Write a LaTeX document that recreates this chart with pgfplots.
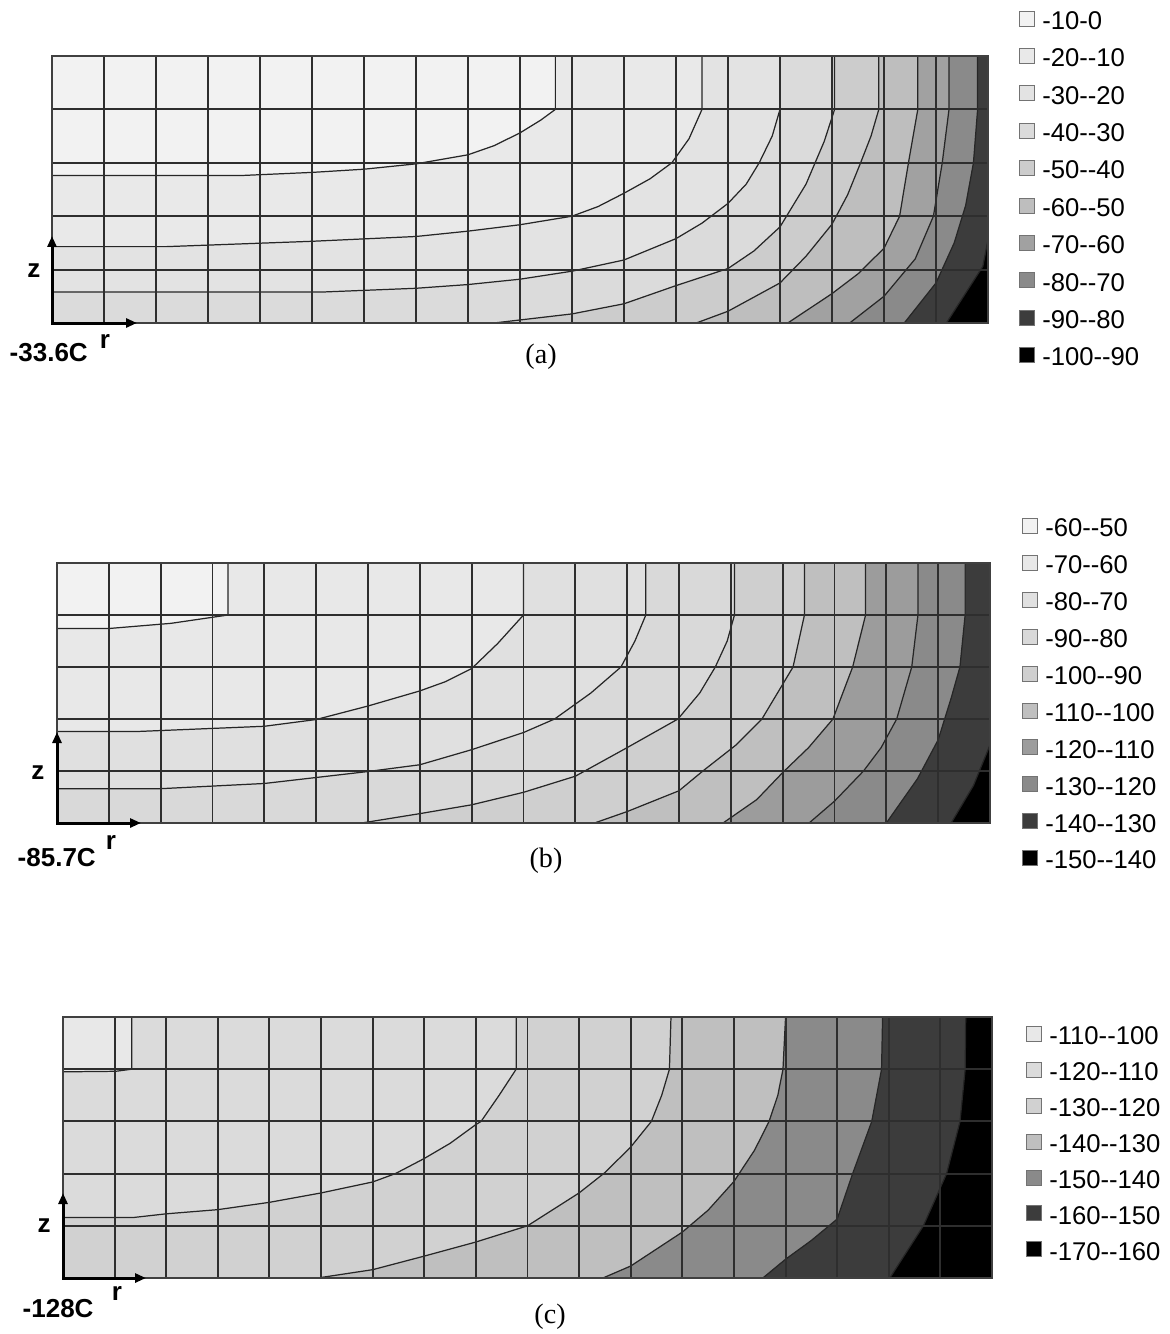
\documentclass[border=0pt]{standalone}
\usepackage{pgfplots}
\pgfplotsset{compat=1.18}
\usepackage{pgfplotstable}
\usetikzlibrary{arrows.meta}
\usepackage{fontspec}
\setmainfont{Liberation Sans}
\newfontfamily\capfont{Liberation Serif}
\newcommand\dd{-\kern0pt-}

% grey levels of the bands, lightest first
\definecolor{a1}{gray}{0.95}\definecolor{a2}{gray}{0.915}\definecolor{a3}{gray}{0.89}
\definecolor{a4}{gray}{0.86}\definecolor{a5}{gray}{0.80}\definecolor{a6}{gray}{0.745}
\definecolor{a7}{gray}{0.63}\definecolor{a8}{gray}{0.54}\definecolor{a9}{gray}{0.235}
\definecolor{a10}{gray}{0}
\definecolor{b1}{gray}{0.95}\definecolor{b2}{gray}{0.91}\definecolor{b3}{gray}{0.88}
\definecolor{b4}{gray}{0.85}\definecolor{b5}{gray}{0.81}\definecolor{b6}{gray}{0.75}
\definecolor{b7}{gray}{0.61}\definecolor{b8}{gray}{0.54}\definecolor{b9}{gray}{0.235}
\definecolor{b10}{gray}{0}
\definecolor{c1}{gray}{0.91}\definecolor{c2}{gray}{0.86}\definecolor{c3}{gray}{0.82}
\definecolor{c4}{gray}{0.75}\definecolor{c5}{gray}{0.54}\definecolor{c6}{gray}{0.235}
\definecolor{c7}{gray}{0}

% contour lines in mesh units (r: 0..18 elements, z: 0..5 elements)
\pgfplotstableread{
x y
0 2.76
3.6 2.76
5 2.82
6 2.88
7 2.98
8 3.15
8.5 3.32
9 3.56
9.4 3.8
9.68 4.0
9.68 5
}\aA
\pgfplotstableread{
x y
0 1.43
2.2 1.43
5 1.53
7 1.62
8 1.72
9 1.84
10 2.0
10.5 2.18
11 2.43
11.5 2.7
11.92 3.0
12.25 3.45
12.5 4.0
12.5 5
}\aB
\pgfplotstableread{
x y
0 0.58
5.2 0.58
7 0.65
8 0.72
9 0.82
10 0.97
11 1.18
12 1.58
12.5 1.87
13 2.24
13.35 2.6
13.6 3.0
13.85 3.5
14 4.0
14 5
}\aC
\pgfplotstableread{
x y
8.5 0
10 0.17
11 0.36
12 0.7
13 1.02
13.5 1.35
14 1.8
14.5 2.6
14.85 3.4
15.05 4.0
15.05 5
}\aD
\pgfplotstableread{
x y
12.39 0
13 0.22
14 0.75
14.5 1.25
15 1.85
15.3 2.4
15.55 3.0
15.75 3.5
15.9 4.0
15.9 5
}\aE
\pgfplotstableread{
x y
14.15 0
15 0.55
15.5 0.92
16 1.4
16.3 2.0
16.47 3.0
16.65 4.0
16.65 5
}\aF
\pgfplotstableread{
x y
15.34 0
16 0.5
16.6 1.2
16.95 2.0
17.12 3.0
17.25 4.0
17.25 5
}\aG
\pgfplotstableread{
x y
16.39 0
17 0.75
17.35 1.5
17.57 2.2
17.72 3.0
17.8 4.0
17.8 5
}\aH
\pgfplotstableread{
x y
17.2 0
17.57 0.56
17.9 1.06
18 1.56
}\aI

\pgfplotstableread{
x y
0 3.74
1 3.74
2.2 3.84
3.3 4.0
3.3 5
}\bA
\pgfplotstableread{
x y
0 1.76
1.56 1.76
4 1.86
5 1.99
6 2.25
7 2.54
7.5 2.72
8 2.97
8.5 3.45
9 4.0
9 5
}\bB
\pgfplotstableread{
x y
0 0.66
2 0.66
4 0.76
6 0.99
7 1.12
8 1.41
9 1.74
9.6 2.0
10.3 2.5
10.88 3.0
11.15 3.5
11.36 4.0
11.36 5
}\bC
\pgfplotstableread{
x y
5.88 0
7 0.18
8 0.35
9 0.59
10 0.9
11 1.45
11.98 2.0
12.4 2.5
12.7 3.0
12.93 3.5
13.07 4.0
13.07 5
}\bD
\pgfplotstableread{
x y
10.37 0
11 0.22
12 0.62
12.46 1.0
13.1 1.5
13.6 2.0
14.2 3.0
14.42 4.0
14.42 5
}\bE
\pgfplotstableread{
x y
12.85 0
13.5 0.45
14 0.97
14.5 1.45
14.97 2.0
15.35 3.0
15.6 4.0
15.6 5
}\bF
\pgfplotstableread{
x y
14.51 0
15 0.42
15.56 1.0
15.9 1.45
16.2 2.0
16.49 3.0
16.61 4.0
16.61 5
}\bG
\pgfplotstableread{
x y
16.0 0
16.6 0.85
17.0 1.6
17.25 2.4
17.42 3.0
17.52 4.0
17.52 5
}\bH
\pgfplotstableread{
x y
17.25 0
17.68 0.72
18 1.5
}\bI

\pgfplotstableread{
x y
0 3.95
1.02 3.96
1.33 4.0
1.33 5
}\cA
\pgfplotstableread{
x y
0 1.16
1.37 1.16
2 1.23
3 1.31
4 1.45
5 1.63
6 1.84
6.44 2.0
7 2.29
7.5 2.58
8 2.94
8.1 3.0
8.45 3.5
8.78 4.0
8.78 5
}\cB
\pgfplotstableread{
x y
4.93 0
6 0.16
7 0.42
8 0.69
9 1.0
10 1.63
10.5 2.02
11 2.51
11.4 3.0
11.6 3.5
11.75 4.0
11.78 5
}\cC
\pgfplotstableread{
x y
10.46 0
11 0.23
12 0.88
12.5 1.3
13 1.85
13.4 2.45
13.68 3.0
13.85 3.5
13.95 4.0
14 5
}\cD
\pgfplotstableread{
x y
13.56 0
14 0.36
14.5 0.72
15 1.13
15.3 2.0
15.67 3.0
15.86 4.0
15.88 5
}\cE
\pgfplotstableread{
x y
16.02 0
16.67 1.0
17.12 2.0
17.38 3.0
17.48 4.0
17.49 5
}\cF

\pgfplotsset{
  panel/.style={
    scale only axis, anchor=north west,
    xmin=0, xmax=18, ymin=0, ymax=5,
    xtick={0,...,18}, ytick={0,...,5},
    xticklabels={}, yticklabels={},
    major tick length=0pt,
    grid=major,
    major grid style={black!82, line width=0.55pt},
    axis line style={black!75, line width=0.5pt},
    axis on top,
    legend cell align=left,
    legend image code/.code={\draw[##1,draw=black!55,line width=0.3pt] (0mm,-0.5mm) rectangle (1.5mm,1.0mm);},
    legend style={draw=none, fill=none, inner sep=0pt, at={(1,1)}, anchor=north west,
      font=\fontsize{7.3}{8}\selectfont,
      nodes={inner xsep=0.75mm, inner ysep=0pt, text height=2.2mm, text depth=0.55mm}},
  },
  band/.style={draw=none},
  cline/.style={black!85, line width=0.35pt, forget plot},
}

\begin{document}
\begin{tikzpicture}
\path[use as bounding box] (0mm,0mm) rectangle (117mm,-133.4mm);

% ---------- (a)
\begin{axis}[panel, at={(5.2mm,-5.6mm)}, width=93.6mm, height=26.7mm,
  legend style={xshift=3.0mm, yshift=4.94mm, row sep=0.99mm}]
\addplot[fill=a1,draw=none] coordinates {(0,0) (18,0) (18,5) (0,5)} -- cycle;
\addlegendentry{-10-0}
\addplot[fill=a2,band] table {\aA} -- (axis cs:18,5) -- (axis cs:18,0) -- (axis cs:0,0) -- cycle;
\addlegendentry{-20\dd10}
\addplot[fill=a3,band] table {\aB} -- (axis cs:18,5) -- (axis cs:18,0) -- (axis cs:0,0) -- cycle;
\addlegendentry{-30\dd20}
\addplot[fill=a4,band] table {\aC} -- (axis cs:18,5) -- (axis cs:18,0) -- (axis cs:0,0) -- cycle;
\addlegendentry{-40\dd30}
\addplot[fill=a5,band] table {\aD} -- (axis cs:18,5) -- (axis cs:18,0) -- (axis cs:0,0) -- cycle;
\addlegendentry{-50\dd40}
\addplot[fill=a6,band] table {\aE} -- (axis cs:18,5) -- (axis cs:18,0) -- (axis cs:0,0) -- cycle;
\addlegendentry{-60\dd50}
\addplot[fill=a7,band] table {\aF} -- (axis cs:18,5) -- (axis cs:18,0) -- (axis cs:0,0) -- cycle;
\addlegendentry{-70\dd60}
\addplot[fill=a8,band] table {\aG} -- (axis cs:18,5) -- (axis cs:18,0) -- (axis cs:0,0) -- cycle;
\addlegendentry{-80\dd70}
\addplot[fill=a9,band] table {\aH} -- (axis cs:18,5) -- (axis cs:18,0) -- (axis cs:0,0) -- cycle;
\addlegendentry{-90\dd80}
\addplot[fill=a10,band] table {\aI} -- (axis cs:18,0) -- cycle;
\addlegendentry{-100\dd90}
\addplot[cline] table {\aA};
\addplot[cline] table {\aB};
\addplot[cline] table {\aC};
\addplot[cline] table {\aD};
\addplot[cline] table {\aE};
\addplot[cline] table {\aF};
\addplot[cline] table {\aG};
\addplot[cline] table {\aH};
\addplot[cline] table {\aI};
\end{axis}

% ---------- (b)
\begin{axis}[panel, at={(5.7mm,-56.3mm)}, width=93.3mm, height=26.0mm,
  legend style={xshift=3.1mm, yshift=4.89mm, row sep=0.94mm}]
\addplot[fill=b1,draw=none] coordinates {(0,0) (18,0) (18,5) (0,5)} -- cycle;
\addlegendentry{-60\dd50}
\addplot[fill=b2,band] table {\bA} -- (axis cs:18,5) -- (axis cs:18,0) -- (axis cs:0,0) -- cycle;
\addlegendentry{-70\dd60}
\addplot[fill=b3,band] table {\bB} -- (axis cs:18,5) -- (axis cs:18,0) -- (axis cs:0,0) -- cycle;
\addlegendentry{-80\dd70}
\addplot[fill=b4,band] table {\bC} -- (axis cs:18,5) -- (axis cs:18,0) -- (axis cs:0,0) -- cycle;
\addlegendentry{-90\dd80}
\addplot[fill=b5,band] table {\bD} -- (axis cs:18,5) -- (axis cs:18,0) -- (axis cs:0,0) -- cycle;
\addlegendentry{-100\dd90}
\addplot[fill=b6,band] table {\bE} -- (axis cs:18,5) -- (axis cs:18,0) -- (axis cs:0,0) -- cycle;
\addlegendentry{-110\dd100}
\addplot[fill=b7,band] table {\bF} -- (axis cs:18,5) -- (axis cs:18,0) -- (axis cs:0,0) -- cycle;
\addlegendentry{-120\dd110}
\addplot[fill=b8,band] table {\bG} -- (axis cs:18,5) -- (axis cs:18,0) -- (axis cs:0,0) -- cycle;
\addlegendentry{-130\dd120}
\addplot[fill=b9,band] table {\bH} -- (axis cs:18,5) -- (axis cs:18,0) -- (axis cs:0,0) -- cycle;
\addlegendentry{-140\dd130}
\addplot[fill=b10,band] table {\bI} -- (axis cs:18,0) -- cycle;
\addlegendentry{-150\dd140}
\addplot[cline] table {\bA};
\addplot[cline] table {\bB};
\addplot[cline] table {\bC};
\addplot[cline] table {\bD};
\addplot[cline] table {\bE};
\addplot[cline] table {\bF};
\addplot[cline] table {\bG};
\addplot[cline] table {\bH};
\addplot[cline] table {\bI};
\end{axis}

% ---------- (c)
\begin{axis}[panel, at={(6.3mm,-101.7mm)}, width=92.9mm, height=26.1mm,
  legend style={xshift=3.3mm, yshift=-0.5mm, row sep=0.84mm}]
\addplot[fill=c1,draw=none] coordinates {(0,0) (18,0) (18,5) (0,5)} -- cycle;
\addlegendentry{-110\dd100}
\addplot[fill=c2,band] table {\cA} -- (axis cs:18,5) -- (axis cs:18,0) -- (axis cs:0,0) -- cycle;
\addlegendentry{-120\dd110}
\addplot[fill=c3,band] table {\cB} -- (axis cs:18,5) -- (axis cs:18,0) -- (axis cs:0,0) -- cycle;
\addlegendentry{-130\dd120}
\addplot[fill=c4,band] table {\cC} -- (axis cs:18,5) -- (axis cs:18,0) -- (axis cs:0,0) -- cycle;
\addlegendentry{-140\dd130}
\addplot[fill=c5,band] table {\cD} -- (axis cs:18,5) -- (axis cs:18,0) -- (axis cs:0,0) -- cycle;
\addlegendentry{-150\dd140}
\addplot[fill=c6,band] table {\cE} -- (axis cs:18,5) -- (axis cs:18,0) -- (axis cs:0,0) -- cycle;
\addlegendentry{-160\dd150}
\addplot[fill=c7,band] table {\cF} -- (axis cs:18,5) -- (axis cs:18,0) -- (axis cs:0,0) -- cycle;
\addlegendentry{-170\dd160}
\addplot[cline] table {\cA};
\addplot[cline] table {\cB};
\addplot[cline] table {\cC};
\addplot[cline] table {\cD};
\addplot[cline] table {\cE};
\addplot[cline] table {\cF};
\end{axis}

% r-z arrows, reference temperatures and captions (positions in pixels of the 1170x1334 frame)
\begin{scope}[x=0.1mm, y=-0.1mm]
\tikzset{ax/.style={line width=0.3mm, -{Triangle[length=1.1mm,width=0.9mm]}},
  lab/.style={font=\bfseries\fontsize{7.4}{8}\selectfont, inner sep=0pt},
  capt/.style={font=\capfont\fontsize{8}{9}\selectfont, inner sep=0pt}}
\draw[ax] (52,323) -- (52,236);
\draw[ax] (51,323) -- (137,323);
\node[lab] at (34,271) {z};
\node[lab] at (105,341) {r};
\node[lab, anchor=west] at (9,353) {-33.6C};
\node[capt] at (541,357) {(a)};

\draw[ax] (57,823) -- (57,732);
\draw[ax] (56,823) -- (141,823);
\node[lab] at (38,773) {z};
\node[lab] at (111,842) {r};
\node[lab, anchor=west] at (17,858) {-85.7C};
\node[capt] at (546,861) {(b)};

\draw[ax] (63,1278) -- (63,1193);
\draw[ax] (62,1278) -- (146,1278);
\node[lab] at (44,1226) {z};
\node[lab] at (117,1293) {r};
\node[lab, anchor=west] at (22,1309) {-128C};
\node[capt] at (550,1317) {(c)};
\end{scope}
\end{tikzpicture}
\end{document}
